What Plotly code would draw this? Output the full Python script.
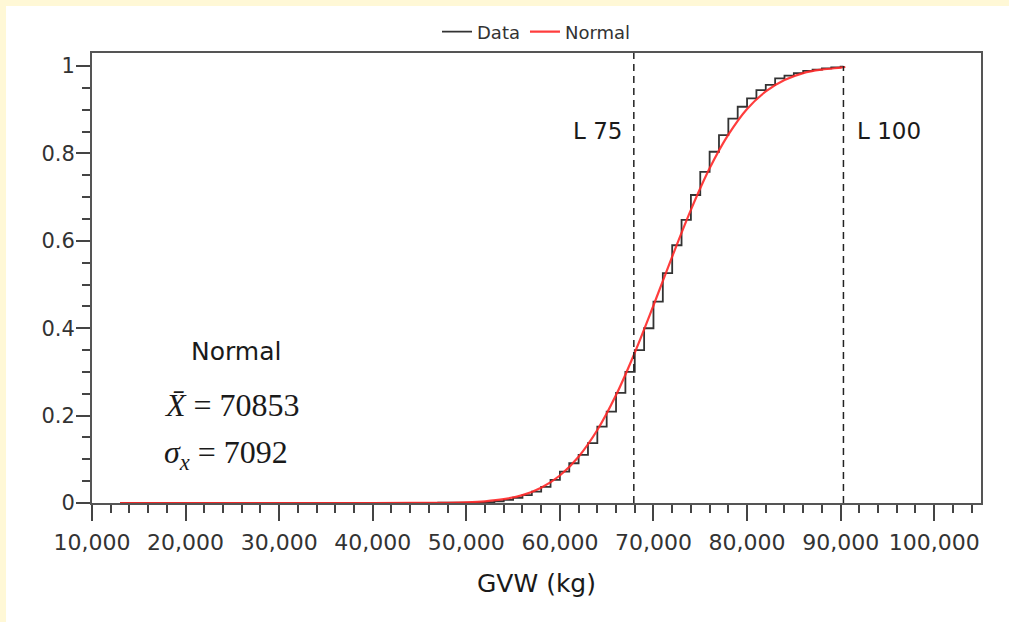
import plotly.graph_objects as go

# ---- data ----
ecdf_x = [13000, 47000, 52000, 53000, 54000, 55000, 56000, 57000, 58000, 59000,
          60000, 61000, 62000, 63000, 64000, 65000, 66000, 67000, 68000, 69000,
          70000, 71000, 72000, 73000, 74000, 75000, 76000, 77000, 78000, 79000,
          80000, 81000, 82000, 83000, 84000, 85000, 86000, 87000, 88000, 89000,
          90000, 90300]
ecdf_y = [0.0, 0.001, 0.002, 0.004, 0.007, 0.012, 0.018, 0.026, 0.037, 0.053,
          0.072, 0.091, 0.110, 0.137, 0.175, 0.209, 0.252, 0.300, 0.350, 0.400,
          0.461, 0.526, 0.590, 0.648, 0.705, 0.758, 0.804, 0.842, 0.880, 0.907,
          0.926, 0.945, 0.957, 0.972, 0.978, 0.984, 0.989, 0.992, 0.995, 0.997,
          0.999, 1.0]

normal_x = [13000, 30000, 40000, 44000, 46000, 48000, 50000, 52000, 54000, 56000,
            58000, 60000, 62000, 64000, 66000, 68000, 70000, 72000, 74000, 76000,
            78000, 80000, 82000, 84000, 86000, 88000, 90000, 90500]
normal_y = [0.0, 0.0, 0.0, 0.0001, 0.0002, 0.0006, 0.0016, 0.0039, 0.0087, 0.0181,
            0.035, 0.063, 0.106, 0.167, 0.247, 0.344, 0.452, 0.564, 0.671, 0.766,
            0.843, 0.902, 0.942, 0.968, 0.984, 0.992, 0.9965, 0.998]

limit_x = [67900, 90300]
limit_top = [1.03, 1.0]
limit_labels = ["L 75", "L 100"]

stats_lines = ["Normal", "<i>X\u0304</i> = 70853", "<i>\u03c3</i><sub><i>x</i></sub> = 7092"]

x_ticks = list(range(10000, 100001, 10000))
x_ticktext = [f"{v:,}" for v in x_ticks]
y_ticks = [0, 0.2, 0.4, 0.6, 0.8, 1.0]
y_ticktext = ["0", "0.2", "0.4", "0.6", "0.8", "1"]

# ---- figure ----
fig = go.Figure()
fig.add_trace(go.Scatter(x=ecdf_x, y=ecdf_y, mode="lines", name="Data",
                         line=dict(color="#333333", width=1.8, shape="hv")))
fig.add_trace(go.Scatter(x=normal_x, y=normal_y, mode="lines", name="Normal",
                         line=dict(color="rgba(255,40,40,0.9)", width=2.2, shape="spline")))

shapes = [
    # cream page border (white card)
    dict(type="rect", xref="paper", yref="paper", x0=-0.0967, x1=1.04, y0=-0.3, y1=1.1044,
         fillcolor="white", line=dict(width=0), layer="below"),
]
for lx, top in zip(limit_x, limit_top):
    shapes.append(dict(type="line", xref="x", yref="y", x0=lx, x1=lx, y0=0, y1=top,
                       line=dict(color="#222222", width=1.5, dash="7px,5px")))

annotations = []
for lx, lab in zip(limit_x, limit_labels):
    left = lab == "L 100"
    annotations.append(dict(x=lx, y=0.851, xref="x", yref="y", text=lab, showarrow=False,
                            xanchor="left" if left else "right",
                            xshift=12 if left else -10,
                            font=dict(family="DejaVu Sans", size=23, color="#1a1a1a")))
annotations.append(dict(x=25380, y=0.346, xref="x", yref="y", text=stats_lines[0],
                        showarrow=False, font=dict(family="DejaVu Sans", size=25, color="#1a1a1a")))
annotations.append(dict(x=24960, y=0.224, xref="x", yref="y", text=stats_lines[1],
                        showarrow=False, font=dict(family="Liberation Serif", size=32, color="#1a1a1a")))
annotations.append(dict(x=24300, y=0.112, xref="x", yref="y", text=stats_lines[2],
                        showarrow=False, font=dict(family="Liberation Serif", size=32, color="#1a1a1a")))

fig.update_layout(
    width=1009, height=622,
    margin=dict(l=92, r=28, t=53, b=119),
    paper_bgcolor="#fff8d6",
    plot_bgcolor="white",
    shapes=shapes,
    annotations=annotations,
    showlegend=True,
    legend=dict(orientation="h", x=0.5, xanchor="center", y=1.047, yanchor="middle",
                font=dict(family="DejaVu Sans", size=18, color="#333333"),
                itemwidth=30, bgcolor="rgba(0,0,0,0)"),
    font=dict(family="DejaVu Sans", color="#333333"),
)

fig.update_xaxes(
    range=[10000, 105000], tickvals=x_ticks, ticktext=x_ticktext,
    ticks="outside", ticklen=16, tickwidth=1.5, tickcolor="#444444",
    minor=dict(dtick=2000, tick0=10000, ticks="outside", ticklen=8, tickwidth=1.5, tickcolor="#444444"),
    showline=True, linecolor="#555555", linewidth=2, mirror=True,
    showgrid=False, zeroline=False, ticklabelstandoff=3,
    tickfont=dict(family="DejaVu Sans", size=22, color="#333333"),
    title=dict(text="GVW (kg)", font=dict(family="DejaVu Sans", size=25, color="#1a1a1a"), standoff=20),
)
fig.update_yaxes(
    range=[0, 1.03], tickvals=y_ticks, ticktext=y_ticktext,
    ticks="outside", ticklen=14, tickwidth=1.5, tickcolor="#444444",
    minor=dict(dtick=0.05, tick0=0, ticks="outside", ticklen=8, tickwidth=1.5, tickcolor="#444444"),
    showline=True, linecolor="#555555", linewidth=2, mirror=True,
    showgrid=False, zeroline=False, ticklabelstandoff=-3,
    tickfont=dict(family="DejaVu Sans", size=21, color="#333333"),
)

fig.write_html("out.html")
